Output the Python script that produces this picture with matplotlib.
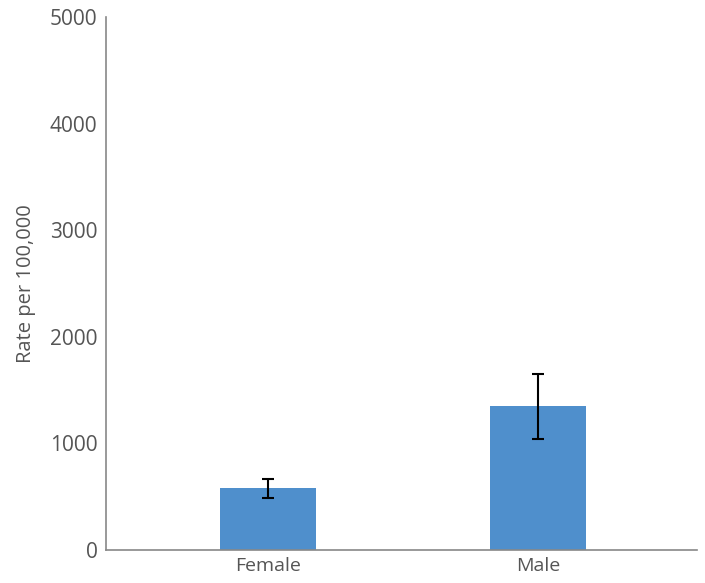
import matplotlib.pyplot as plt

categories = ["Female", "Male"]
rates = [582, 1351]
upper = [666, 1651]
lower = [488, 1041]

plt.rcParams['font.family'] = ['Open Sans', 'DejaVu Sans']

fig = plt.figure(figsize=(7.05, 5.83), dpi=100)
ax = fig.add_axes([0.150, 0.0566, 0.839, 0.914])

x = range(len(categories))
yerr = [[r - l for r, l in zip(rates, lower)], [u - r for r, u in zip(rates, upper)]]
ax.bar(x, rates, width=0.356, color="#4f8fcc")
ax.errorbar(x, rates, yerr=yerr, fmt="none", ecolor="black", elinewidth=1.5,
            capsize=4, capthick=1.5)

ax.set_xlim(-0.6, 1.59)
ax.set_ylim(0, 5000)
ax.set_yticks(range(0, 5001, 1000))
ax.set_xticks(list(x))
ax.set_xticklabels(categories)
ax.set_ylabel("Rate per 100,000", color="#555555", fontsize=14.5, labelpad=10)

for side in ["top", "right"]:
    ax.spines[side].set_visible(False)
for side in ["left", "bottom"]:
    ax.spines[side].set_color("#888888")
    ax.spines[side].set_linewidth(1.2)
ax.tick_params(axis="both", length=0, labelcolor="#555555")
ax.tick_params(axis="y", labelsize=15, pad=6)
ax.tick_params(axis="x", labelsize=14, pad=5)

fig.savefig("out.png", dpi=100)
